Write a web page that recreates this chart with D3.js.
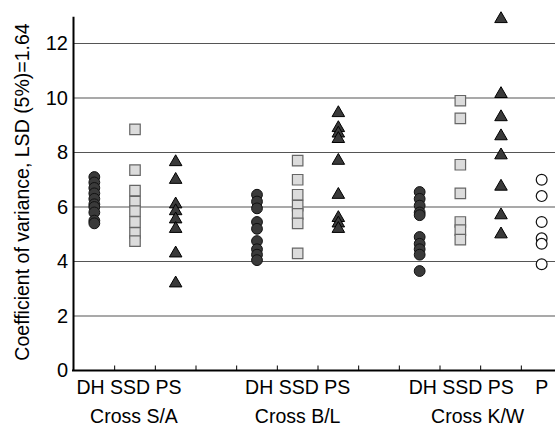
<!DOCTYPE html>
<html><head><meta charset="utf-8">
<script src="https://cdn.jsdelivr.net/npm/d3@7"></script>
<style>
html,body{margin:0;padding:0;background:#fff;}
svg{display:block;font-family:"Liberation Sans",Arial,Helvetica,sans-serif;}
</style></head>
<body>
<svg id="chart" width="555" height="426"></svg>
<script>
// ---- data ----
const slots = ["S/A-DH","S/A-SSD","S/A-PS","gap1","B/L-DH","B/L-SSD","B/L-PS","gap2","K/W-DH","K/W-SSD","K/W-PS","P"];
const groups = ["Cross S/A","Cross B/L","Cross K/W"];
const groupSubLabel = "DH SSD PS";
const yTicks = [0,2,4,6,8,10,12];
const yLabel = "Coefficient of variance, LSD (5%)=1.64";

const saDH  = [7.1,6.9,6.7,6.5,6.3,6.1,6.0,5.8,5.5,5.4];
const saSSD = [8.85,7.35,6.6,6.2,5.85,5.45,5.05,4.75];
const saPS  = [7.65,7.0,6.1,5.85,5.55,5.2,4.3,3.2];
const blDH  = [6.45,6.2,5.95,5.45,5.2,4.75,4.45,4.25,4.05];
const blSSD = [7.7,7.0,6.45,6.05,5.75,5.4,4.3];
const blPS  = [9.45,8.9,8.7,8.5,7.7,6.45,5.6,5.4,5.2];
const kwDH  = [6.55,6.3,6.05,5.8,5.7,4.9,4.65,4.45,4.25,3.65];
const kwSSD = [9.9,9.25,7.55,6.5,5.45,5.15,4.8];
const kwPS  = [12.9,10.15,9.3,8.6,7.9,6.75,5.7,5.0];
const parentP = [7.0,6.4,5.45,4.85,4.65,3.9];

const series = [
  {slot:"S/A-DH", type:"dh", values:saDH},
  {slot:"S/A-SSD",type:"ssd",values:saSSD},
  {slot:"S/A-PS", type:"ps", values:saPS},
  {slot:"B/L-DH", type:"dh", values:blDH},
  {slot:"B/L-SSD",type:"ssd",values:blSSD},
  {slot:"B/L-PS", type:"ps", values:blPS},
  {slot:"K/W-DH", type:"dh", values:kwDH},
  {slot:"K/W-SSD",type:"ssd",values:kwSSD},
  {slot:"K/W-PS", type:"ps", values:kwPS},
  {slot:"P",      type:"p",  values:parentP}
];

// ---- layout ----
const svg = d3.select("#chart");
const x = d3.scaleBand().domain(slots).range([74, 562]).padding(0);
const y = d3.scaleLinear().domain([0, 13]).range([370.5, 16.25]);
const cx = s => x(s) + x.bandwidth()/2;

// gridlines
svg.append("g").selectAll("line").data(yTicks.filter(d=>d>0)).join("line")
  .attr("x1", 73).attr("x2", 555)
  .attr("y1", d=>y(d)).attr("y2", d=>y(d))
  .attr("stroke", "#555").attr("stroke-width", 1.2);

// y axis
const yAxis = svg.append("g").attr("transform","translate(73,0)")
  .call(d3.axisLeft(y).tickValues(yTicks).tickSize(0).tickPadding(5).tickFormat(d3.format("d")));
yAxis.select(".domain").attr("stroke","#000").attr("stroke-width",2);
yAxis.selectAll("text").attr("font-size","20px").attr("fill","#000")
  .attr("font-family","'Liberation Sans',Arial,sans-serif");

// x axis line
svg.append("line").attr("x1",72).attr("x2",555).attr("y1",y(0)).attr("y2",y(0))
  .attr("stroke","#000").attr("stroke-width",2);
// inward ticks at band boundaries
svg.append("g").selectAll("line").data(slots.slice(1)).join("line")
  .attr("x1", d=>x(d)).attr("x2", d=>x(d))
  .attr("y1", y(0)).attr("y2", y(0)-5)
  .attr("stroke","#000").attr("stroke-width",1);

// y label
svg.append("text")
  .attr("transform","translate(29,192) rotate(-90)")
  .attr("text-anchor","middle").attr("font-size","19.5px").attr("fill","#000")
  .text(yLabel);

// category labels
const subCenters = ["S/A-SSD","B/L-SSD","K/W-SSD"];
const subOffsets = [-6, 0, 1];
svg.append("g").selectAll("text").data(subCenters).join("text")
  .attr("x",(d,i)=>cx(d)+subOffsets[i]).attr("y",394)
  .attr("text-anchor","middle").attr("font-size","19.5px").text(groupSubLabel);
svg.append("text").attr("x",cx("P")).attr("y",394)
  .attr("text-anchor","middle").attr("font-size","19.5px").text("P");

const groupX = [cx("S/A-SSD")-1, cx("B/L-SSD"), x("K/W-PS")-3];
svg.append("g").selectAll("text").data(groups).join("text")
  .attr("x",(d,i)=>groupX[i]).attr("y",423)
  .attr("text-anchor","middle").attr("font-size","19.5px").text(d=>d);

// markers
const styles = {
  dh:  {sym:d3.symbolCircle,   size:92,  fill:"#3a3a3a", stroke:"#111", sw:1},
  ssd: {sym:d3.symbolSquare,   size:110, fill:"#dcdcdc", stroke:"#666", sw:1.2},
  ps:  {sym:d3.symbolTriangle, size:68,  fill:"#3a3a3a", stroke:"#000", sw:1},
  p:   {sym:d3.symbolCircle,   size:92,  fill:"#fff",    stroke:"#111", sw:1.2}
};
const pts = series.flatMap(s => s.values.map(v => ({slot:s.slot, type:s.type, v})));
svg.append("g").selectAll("path").data(pts).join("path")
  .attr("transform", d=>`translate(${cx(d.slot)},${y(d.v)})`)
  .attr("d", d=>d3.symbol().type(styles[d.type].sym).size(styles[d.type].size)())
  .attr("fill", d=>styles[d.type].fill)
  .attr("stroke", d=>styles[d.type].stroke)
  .attr("stroke-width", d=>styles[d.type].sw);
</script>
</body></html>
